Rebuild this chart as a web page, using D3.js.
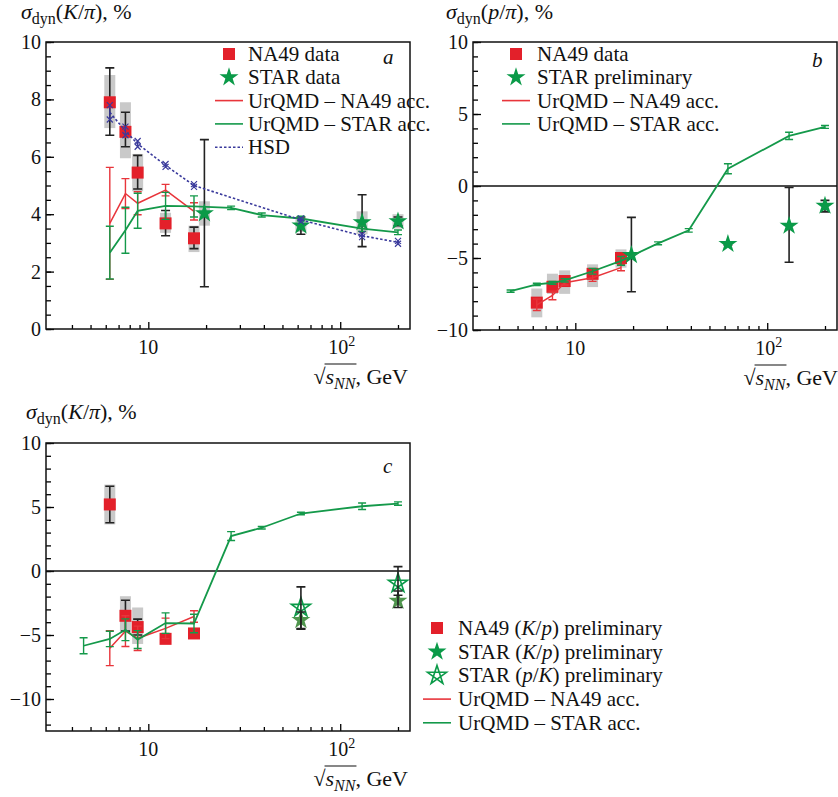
<!DOCTYPE html>
<html><head><meta charset="utf-8">
<script src="https://cdn.jsdelivr.net/npm/d3@7"></script>
<style>
body{margin:0;background:#fff}
text{font-family:"Liberation Serif","Times New Roman",serif;fill:#111}
</style>
</head><body>
<svg id="chart" width="838" height="797"></svg>
<script>
// ---------------- data ----------------
const naX = [6.3, 7.6, 8.8, 12.3, 17.3];
const starX = [19.6, 62.4, 130, 200];
const starXc = [62.4, 200];
const urStarX = [4.6, 6.3, 7.6, 8.8, 12.3, 17.3, 27, 39, 62.4, 130, 200];
const urStarXa = [6.3, 7.6, 8.8, 12.3, 17.3, 27, 39, 62.4, 130, 200];
const hsdX = [6.3, 7.6, 8.8, 12.3, 17.3, 62.4, 130, 200];
const xTickMajor = [10, 100];
const xTickLabels = ["10", "10"];
const xTickSup = ["", "2"];
const xTickMinor = [4, 5, 6, 7, 8, 9, 20, 30, 40, 50, 60, 70, 80, 90, 200];

// Panel a : sigma_dyn(K/pi)
const aNA49 = [7.9, 6.87, 5.45, 3.68, 3.16];
const aNA49Stat = [[6.75, 9.1], [6.35, 7.55], [4.88, 6.05], [3.25, 4.13], [2.8, 3.55]];
const aNA49Sys = [[7.0, 8.85], [5.95, 7.9], [4.8, 6.1], [3.35, 4.05], [2.68, 3.6]];
const aSTAR = [4.03, 3.6, 3.72, 3.75];
const aSTARStat = [[1.47, 6.6], [3.3, 3.9], [2.87, 4.68], [3.6, 3.9]];
const aSTARSys = [[3.6, 4.45], [3.38, 3.85], [3.3, 4.1], [3.5, 4.0]];
const aUrNA49 = [3.68, 4.72, 4.38, 4.84, 4.1];
const aUrNA49Err = [1.95, 0.52, 0.4, 0.2, 0.3];
const aUrSTAR = [2.66, 3.44, 4.12, 4.29, 4.27, 4.22, 3.97, 3.85, 3.5, 3.37];
const aUrSTARErr = [0.92, 0.8, 0.61, 0.47, 0.37, 0.06, 0.07, 0.08, 0.1, 0.08];
const aHSD = [7.55, 6.9, 6.45, 5.7, 5.0, 3.8, 3.25, 3.02];
const aHSDErr = [0.25, 0.15, 0.1, 0.05, 0.05, 0.05, 0.05, 0.05];

// Panel b : sigma_dyn(p/pi)
const bNA49 = [-8.1, -7.0, -6.6, -6.1, -5.0];
const bNA49Stat = [[-8.35, -7.85], [-7.25, -6.75], [-6.85, -6.35], [-6.35, -5.85], [-5.25, -4.75]];
const bNA49Sys = [[-9.12, -7.12], [-7.49, -6.09], [-7.49, -5.86], [-7.02, -5.44], [-5.67, -4.4]];
const bSTAR = [-4.8, -4.03, -2.76, -1.37];
const bSTARStat = [[-7.34, -2.18], [-4.1, -3.95], [-5.3, -0.1], [-1.8, -1.0]];
const bUrNA49 = [-8.25, -7.6, -6.72, -6.37, -5.67];
const bUrNA49Err = [0.4, 0.3, 0.15, 0.25, 0.22];
const bUrSTAR = [-7.3, -6.83, -6.72, -6.55, -5.92, -5.2, -3.98, -3.08, 1.2, 3.48, 4.1];
const bUrSTARErr = [0.08, 0.08, 0.1, 0.12, 0.2, 0.3, 0.1, 0.12, 0.35, 0.25, 0.1];

// Panel c : sigma_dyn(K/p)
const cNA49 = [5.2, -3.5, -4.38, -5.3, -4.88];
const cNA49Stat = [[3.77, 6.62], [-4.7, -2.28], [-5.0, -3.76], [-5.5, -5.1], [-5.1, -4.65]];
const cNA49Sys = [[3.64, 6.75], [-4.8, -1.97], [-5.7, -2.85], [-5.55, -5.05], [-5.15, -4.6]];
const cSTARKp = [-3.84, -2.33];
const cSTARKpStat = [[-4.5, -3.2], [-2.85, -1.56]];
const cSTARpK = [-2.85, -0.96];
const cSTARpKStat = [[-4.54, -1.24], [-1.9, 0.34]];
const cUrNA49 = [-6.03, -4.7, -5.26, -4.48, -3.55];
const cUrNA49Err = [1.36, 1.2, 0.95, 0.8, 0.45];
const cUrSTAR = [-5.84, -5.31, -4.59, -5.36, -4.07, -4.1, 2.73, 3.38, 4.49, 5.06, 5.27];
const cUrSTARErr = [0.62, 0.6, 0.85, 0.7, 0.8, 0.72, 0.35, 0.1, 0.1, 0.25, 0.13];

// ---------------- style ----------------
const RED = "#e3202a", GREEN = "#0a9a48", LRED = "#e8353b", LGREEN = "#14994a", BLUE = "#3a3a9c", GREY = "#c9c9c9";
const FONT = "'Liberation Serif','Times New Roman',serif";
const svg = d3.select("#chart");
svg.append("rect").attr("width", 838).attr("height", 797).attr("fill", "#fff");

const starSym = r => d3.symbol(d3.symbolStar, r * r / 0.8908130915292852)();
function pentagram(cx, cy, r) {
  const p = d3.range(5).map(k => {
    const a = -Math.PI / 2 + k * 2 * Math.PI / 5;
    return [cx + r * Math.cos(a), cy + r * Math.sin(a)];
  });
  const o = [0, 2, 4, 1, 3];
  return "M" + o.map(i => p[i].join(",")).join("L") + "Z";
}

function panel(o) {
  const g = svg.append("g");
  const x = d3.scaleLog().domain([2.93, 231]).range([o.left, o.right]);
  const y = d3.scaleLinear().domain(o.yDomain).range([o.bottom, o.top]);

  // axes (ticks inward)
  g.append("g").attr("transform", `translate(0,${o.bottom})`)
    .call(d3.axisBottom(x).tickValues(xTickMinor).tickSize(-4).tickFormat(""))
    .call(s => { s.select(".domain").remove(); s.selectAll("line").attr("stroke-width", 1.3); });
  g.append("g").attr("transform", `translate(0,${o.bottom})`)
    .call(d3.axisBottom(x).tickValues(xTickMajor).tickSize(-7).tickFormat(""))
    .call(s => { s.select(".domain").remove(); s.selectAll("line").attr("stroke-width", 1.3); });
  xTickMajor.forEach((v, i) => {
    const t = g.append("text").attr("y", o.bottom + 25).attr("font-size", 20);
    t.append("tspan").text(xTickLabels[i]);
    if (xTickSup[i]) {
      t.attr("x", x(v) - 12).attr("text-anchor", "start");
      t.append("tspan").attr("font-size", 14).attr("dy", -8).text(xTickSup[i]);
    } else {
      t.attr("x", x(v)).attr("text-anchor", "middle");
    }
  });
  g.append("g").attr("transform", `translate(${o.left},0)`)
    .call(d3.axisLeft(y).tickValues(o.yMinor).tickSize(-5).tickFormat(""))
    .call(s => { s.select(".domain").remove(); s.selectAll("line").attr("stroke-width", 1.3); });
  g.append("g").attr("transform", `translate(${o.left},0)`)
    .call(d3.axisLeft(y).tickValues(o.yMajor).tickSize(-8).tickPadding(5))
    .call(s => {
      s.select(".domain").remove();
      s.selectAll("line").attr("stroke-width", 1.3);
      s.attr("font-size", 20).attr("font-family", FONT);
      s.selectAll("text").attr("fill", "#111");
    });

  if (o.zero) {
    g.append("line").attr("x1", o.left).attr("x2", o.right).attr("y1", y(0)).attr("y2", y(0))
      .attr("stroke", "#111").attr("stroke-width", 1.5);
  }

  const data = g.append("g");
  function sysBoxes(xs, sys) {
    data.selectAll(null).data(xs).join("rect")
      .attr("x", d => x(d) - 5.5).attr("width", 11)
      .attr("y", (d, i) => y(sys[i][1])).attr("height", (d, i) => y(sys[i][0]) - y(sys[i][1]))
      .attr("fill", GREY);
  }
  function errBars(xs, lohi, color, cap, sw) {
    xs.forEach((d, i) => {
      if (!lohi[i]) return;
      const cx = x(d), y1 = y(lohi[i][0]), y2 = y(lohi[i][1]);
      data.append("path")
        .attr("d", `M${cx},${y1}V${y2}M${cx - cap},${y1}H${cx + cap}M${cx - cap},${y2}H${cx + cap}`)
        .attr("stroke", color).attr("stroke-width", sw).attr("fill", "none");
    });
  }
  function squares(xs, ys) {
    data.selectAll(null).data(xs).join("rect")
      .attr("x", d => x(d) - 6).attr("y", (d, i) => y(ys[i]) - 6)
      .attr("width", 12).attr("height", 12).attr("fill", RED);
  }
  function stars(xs, ys, color, opacity) {
    data.selectAll(null).data(xs).join("path")
      .attr("transform", (d, i) => `translate(${x(d)},${y(ys[i])})`)
      .attr("d", starSym(10)).attr("fill", color).attr("fill-opacity", opacity || 1);
  }
  function openStars(xs, ys, color) {
    xs.forEach((d, i) => {
      data.append("path").attr("d", pentagram(x(d), y(ys[i]), 10))
        .attr("fill", "none").attr("stroke", color).attr("stroke-width", 1.6);
    });
  }
  function model(xs, ys, errs, color, sw) {
    data.append("path").datum(xs.map((d, i) => [d, ys[i]]))
      .attr("d", d3.line().x(d => x(d[0])).y(d => y(d[1])))
      .attr("fill", "none").attr("stroke", color).attr("stroke-width", sw);
    errBars(xs, ys.map((v, i) => [v - errs[i], v + errs[i]]), color, 4, 1.4);
  }
  o.draw({ x, y, sysBoxes, errBars, squares, stars, openStars, model, data });

  // frame
  g.append("rect").attr("x", o.left).attr("y", o.top)
    .attr("width", o.right - o.left).attr("height", o.bottom - o.top)
    .attr("fill", "none").attr("stroke", "#111").attr("stroke-width", 1.5);

  // panel letter
  g.append("text").attr("x", o.letterX).attr("y", o.letterY).attr("font-size", 21)
    .attr("font-style", "italic").text(o.letter);

  // y title
  const yt = g.append("text").attr("x", o.ytX).attr("y", o.ytY).attr("font-size", 22);
  yt.append("tspan").attr("font-style", "italic").text("σ");
  yt.append("tspan").attr("font-size", 16).attr("dy", 5).text("dyn");
  yt.append("tspan").attr("dy", -5).text("(");
  yt.append("tspan").attr("font-style", "italic").text(o.num);
  yt.append("tspan").text("/");
  yt.append("tspan").attr("font-style", "italic").text(o.den);
  yt.append("tspan").text("), %");

  // x title: sqrt(s_NN), GeV
  const xt = g.append("g");
  const base = o.bottom + 55;
  const t1 = xt.append("text").attr("y", base).attr("font-size", 22).text("√");
  const t2 = xt.append("text").attr("y", base).attr("font-size", 22);
  t2.append("tspan").attr("font-style", "italic").text("s");
  t2.append("tspan").attr("font-style", "italic").attr("font-size", 16).attr("dy", 5).text("NN");
  const t3 = xt.append("text").attr("y", base).attr("font-size", 22).text(", GeV");
  const w1 = t1.node().getComputedTextLength(), w2 = t2.node().getComputedTextLength(), w3 = t3.node().getComputedTextLength();
  const x0 = o.xtRight - (w1 + w2 + w3);
  t1.attr("x", x0); t2.attr("x", x0 + w1); t3.attr("x", x0 + w1 + w2);
  xt.append("line").attr("x1", x0 + w1 - 1).attr("x2", x0 + w1 + w2 + 1)
    .attr("y1", base - 20).attr("y2", base - 20).attr("stroke", "#111").attr("stroke-width", 1.2);

  // legend
  const lg = g.append("g");
  o.legend.items.forEach((it, i) => {
    const cy = o.legend.y0 + i * o.legend.dy;
    const mx = o.legend.mx;
    if (it.type === "square") lg.append("rect").attr("x", mx - 6).attr("y", cy - 6).attr("width", 12).attr("height", 12).attr("fill", RED);
    if (it.type === "star") lg.append("path").attr("transform", `translate(${mx},${cy})`).attr("d", starSym(10)).attr("fill", GREEN);
    if (it.type === "ostar") lg.append("path").attr("d", pentagram(mx, cy, 10)).attr("fill", "none").attr("stroke", GREEN).attr("stroke-width", 1.6);
    if (it.type === "line") lg.append("line").attr("x1", mx - 14).attr("x2", mx + 14).attr("y1", cy).attr("y2", cy)
      .attr("stroke", it.color).attr("stroke-width", 1.6).attr("stroke-dasharray", it.dash || null);
    const t = lg.append("text").attr("x", o.legend.tx).attr("y", cy + 7).attr("font-size", 21);
    it.parts.forEach(p => t.append("tspan").attr("font-style", p[1] ? "italic" : null).text(p[0]));
  });
}

// ---------------- panel a ----------------
panel({
  left: 46, right: 410, top: 42, bottom: 329,
  yDomain: [0, 10], yMajor: [0, 2, 4, 6, 8, 10], yMinor: d3.range(0, 10.01, 0.5),
  zero: false, letter: "a", letterX: 383, letterY: 64,
  num: "K", den: "π", ytX: 21, ytY: 19, xtRight: 408,
  legend: { mx: 229, tx: 248, y0: 54, dy: 23.3, items: [
    { type: "square", parts: [["NA49 data"]] },
    { type: "star", parts: [["STAR data"]] },
    { type: "line", color: LRED, parts: [["UrQMD – NA49 acc."]] },
    { type: "line", color: LGREEN, parts: [["UrQMD – STAR acc."]] },
    { type: "line", color: BLUE, dash: "2.5,2", parts: [["HSD"]] }
  ]},
  draw: p => {
    p.sysBoxes(naX, aNA49Sys);
    p.sysBoxes(starX, aSTARSys);
    p.errBars(naX, aNA49Stat, "#222", 4.5, 1.6);
    p.errBars(starX, aSTARStat, "#222", 4.5, 1.6);
    p.squares(naX, aNA49);
    p.stars(starX, aSTAR, GREEN);
    p.model(naX, aUrNA49, aUrNA49Err, LRED, 1.5);
    p.model(urStarXa, aUrSTAR, aUrSTARErr, LGREEN, 1.8);
    p.data.append("path").datum(hsdX.map((d, i) => [d, aHSD[i]]))
      .attr("d", d3.line().x(d => p.x(d[0])).y(d => p.y(d[1])))
      .attr("fill", "none").attr("stroke", BLUE).attr("stroke-width", 1.6).attr("stroke-dasharray", "2.5,2");
    hsdX.forEach((d, i) => {
      const cx = p.x(d), y1 = p.y(aHSD[i] - aHSDErr[i]), y2 = p.y(aHSD[i] + aHSDErr[i]);
      p.data.append("path")
        .attr("d", `M${cx},${y1}V${y2}M${cx - 3},${y1 - 3}L${cx + 3},${y1 + 3}M${cx - 3},${y1 + 3}L${cx + 3},${y1 - 3}M${cx - 3},${y2 - 3}L${cx + 3},${y2 + 3}M${cx - 3},${y2 + 3}L${cx + 3},${y2 - 3}`)
        .attr("stroke", BLUE).attr("stroke-width", 1.2).attr("fill", "none");
    });
  }
});

// ---------------- panel b ----------------
panel({
  left: 473, right: 837, top: 42, bottom: 330,
  yDomain: [-10, 10], yMajor: [-10, -5, 0, 5, 10], yMinor: d3.range(-10, 10.01, 1),
  zero: true, letter: "b", letterX: 812, letterY: 67,
  num: "p", den: "π", ytX: 446, ytY: 19, xtRight: 838,
  legend: { mx: 516, tx: 537, y0: 54, dy: 23.3, items: [
    { type: "square", parts: [["NA49 data"]] },
    { type: "star", parts: [["STAR preliminary"]] },
    { type: "line", color: LRED, parts: [["UrQMD – NA49 acc."]] },
    { type: "line", color: LGREEN, parts: [["UrQMD – STAR acc."]] }
  ]},
  draw: p => {
    p.sysBoxes(naX, bNA49Sys);
    p.errBars(naX, bNA49Stat, "#222", 4, 1.4);
    p.errBars(starX, bSTARStat, "#222", 4.5, 1.6);
    p.squares(naX, bNA49);
    p.stars(starX, bSTAR, GREEN);
    p.model(naX, bUrNA49, bUrNA49Err, LRED, 1.5);
    p.model(urStarX, bUrSTAR, bUrSTARErr, LGREEN, 1.8);
  }
});

// ---------------- panel c ----------------
panel({
  left: 46, right: 410, top: 443, bottom: 731,
  yDomain: [-12.5, 10], yMajor: [-10, -5, 0, 5, 10], yMinor: d3.range(-12, 10.01, 1),
  zero: true, letter: "c", letterX: 383, letterY: 473,
  num: "K", den: "π", ytX: 26, ytY: 419, xtRight: 408,
  legend: { mx: 437, tx: 458, y0: 628, dy: 23.7, items: [
    { type: "square", parts: [["NA49 ("], ["K", 1], ["/"], ["p", 1], [") preliminary"]] },
    { type: "star", parts: [["STAR ("], ["K", 1], ["/"], ["p", 1], [") preliminary"]] },
    { type: "ostar", parts: [["STAR ("], ["p", 1], ["/"], ["K", 1], [") preliminary"]] },
    { type: "line", color: LRED, parts: [["UrQMD – NA49 acc."]] },
    { type: "line", color: LGREEN, parts: [["UrQMD – STAR acc."]] }
  ]},
  draw: p => {
    p.sysBoxes(naX, cNA49Sys);
    p.errBars(naX, cNA49Stat, "#222", 4.5, 1.6);
    p.squares(naX, cNA49);
    p.stars(starXc, cSTARKp, "#3c8a3a", 0.9);
    p.openStars(starXc, cSTARpK, GREEN);
    p.errBars(starXc, cSTARKpStat, "#222", 4.5, 1.6);
    p.errBars(starXc, cSTARpKStat, "#222", 4.5, 1.6);
    p.model(naX, cUrNA49, cUrNA49Err, LRED, 1.5);
    p.model(urStarX, cUrSTAR, cUrSTARErr, LGREEN, 1.8);
  }
});
</script>
</body></html>
